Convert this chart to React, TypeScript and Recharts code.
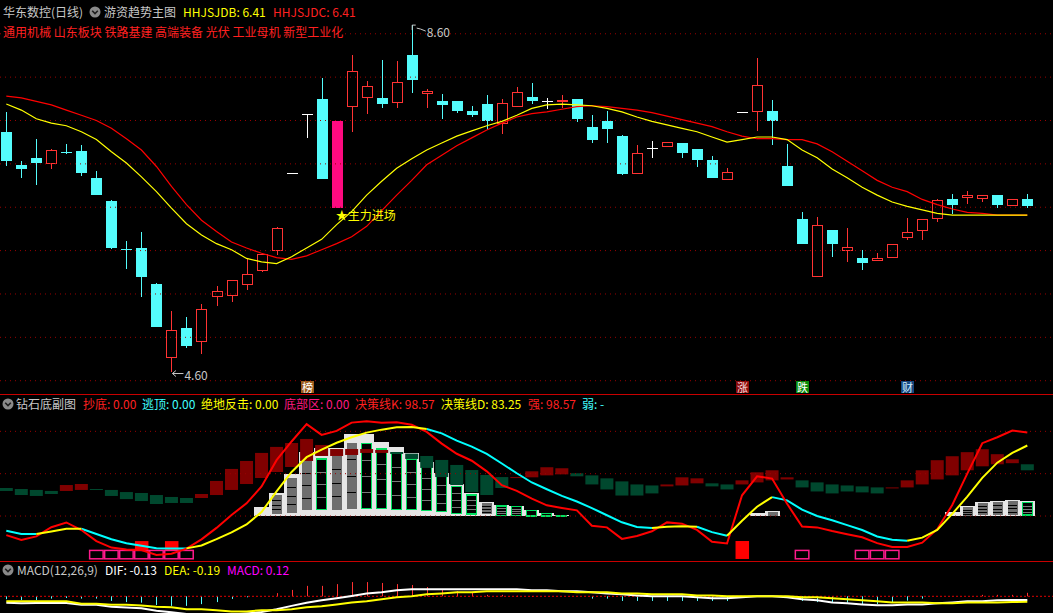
import React from "react";
import { ComposedChart, Bar, Line, XAxis, YAxis, ReferenceLine, ReferenceDot } from "recharts";

const FONT = '"Noto Sans CJK SC", "Noto Sans", sans-serif';
const W = 1053;
const X_DOMAIN: [number, number] = [-0.4196, 69.71];

// ================= 主图 (price) =================
const OPEN = [7.37, 6.99, 7.07, 7.0, 7.14, 7.15, 6.84, 6.57, 6.02, 6.03, 5.61, 4.76, 5.11, 4.95, 5.46, 5.48, 5.6, 5.76, 6.0, 6.89, 7.58, 7.75, 6.49, 7.66, 7.76, 7.76, 7.7, 8.26, 7.81, 7.73, 7.73, 7.61, 7.69, 7.46, 7.66, 7.77, 7.72, 7.72, 7.75, 7.42, 7.49, 7.32, 6.88, 7.18, 7.2, 7.24, 7.17, 7.04, 6.81, 7.6, 7.6, 7.61, 6.98, 6.36, 5.7, 6.24, 6.0, 5.91, 5.88, 5.91, 6.15, 6.23, 6.36, 6.6, 6.61, 6.59, 6.64, 6.52, 6.6];
const HIGH = [7.6, 7.03, 7.29, 7.17, 7.23, 7.22, 6.92, 6.58, 6.11, 6.21, 5.63, 5.3, 5.23, 5.38, 5.59, 5.66, 5.9, 5.96, 6.27, 6.89, 7.58, 7.99, 7.5, 8.26, 7.96, 8.2, 8.19, 8.6, 7.86, 7.81, 7.73, 7.67, 7.79, 7.75, 7.89, 7.93, 7.76, 7.79, 7.75, 7.56, 7.61, 7.33, 7.22, 7.26, 7.25, 7.24, 7.17, 7.09, 6.95, 7.6, 8.22, 7.74, 7.23, 6.45, 6.39, 6.24, 6.26, 6.01, 5.97, 6.08, 6.38, 6.36, 6.6, 6.65, 6.69, 6.64, 6.64, 6.6, 6.65];
const LOW = [6.98, 6.84, 6.76, 6.94, 7.11, 6.86, 6.64, 6.02, 5.79, 5.46, 5.12, 4.6, 4.88, 4.81, 5.36, 5.41, 5.55, 5.75, 5.95, 6.89, 7.3, 6.82, 6.49, 7.37, 7.57, 7.64, 7.64, 7.82, 7.64, 7.52, 7.59, 7.54, 7.39, 7.34, 7.66, 7.69, 7.63, 7.64, 7.48, 7.24, 7.24, 6.87, 6.88, 7.07, 7.19, 7.07, 6.96, 6.84, 6.81, 7.6, 7.38, 7.22, 6.75, 6.08, 5.7, 5.93, 5.87, 5.78, 5.88, 5.91, 6.12, 6.12, 6.33, 6.42, 6.54, 6.56, 6.49, 6.52, 6.49];
const CLOSE = [7.03, 6.94, 7.01, 7.16, 7.13, 6.9, 6.64, 6.03, 6.01, 5.7, 5.12, 5.08, 4.9, 5.33, 5.53, 5.66, 5.73, 5.96, 6.26, 6.89, 7.58, 6.82, 7.5, 8.07, 7.9, 7.69, 7.94, 7.97, 7.84, 7.68, 7.61, 7.56, 7.49, 7.7, 7.83, 7.73, 7.72, 7.74, 7.52, 7.28, 7.4, 6.88, 7.12, 7.18, 7.25, 7.13, 7.04, 6.84, 6.91, 7.6, 7.91, 7.5, 6.75, 6.08, 6.3, 6.08, 6.04, 5.86, 5.91, 6.08, 6.22, 6.36, 6.58, 6.53, 6.64, 6.64, 6.53, 6.6, 6.51];
const HHJSJDB = [7.69, 7.62, 7.52, 7.47, 7.44, 7.37, 7.28, 7.14, 7.01, 6.85, 6.68, 6.49, 6.31, 6.18, 6.08, 6.01, 5.91, 5.87, 5.85, 5.93, 6.03, 6.13, 6.3, 6.45, 6.64, 6.8, 6.95, 7.06, 7.16, 7.24, 7.32, 7.38, 7.44, 7.49, 7.56, 7.64, 7.68, 7.69, 7.68, 7.67, 7.64, 7.6, 7.54, 7.49, 7.45, 7.41, 7.37, 7.31, 7.25, 7.28, 7.31, 7.31, 7.28, 7.16, 7.07, 6.94, 6.84, 6.73, 6.64, 6.56, 6.51, 6.47, 6.43, 6.41, 6.41, 6.41, 6.41, 6.41, 6.41];
const HHJSJDC = [7.78, 7.76, 7.72, 7.68, 7.62, 7.56, 7.5, 7.41, 7.29, 7.16, 6.97, 6.74, 6.53, 6.35, 6.22, 6.1, 6.03, 5.97, 5.92, 5.9, 5.94, 6.01, 6.08, 6.16, 6.28, 6.46, 6.64, 6.81, 6.99, 7.1, 7.21, 7.3, 7.39, 7.47, 7.54, 7.58, 7.6, 7.63, 7.66, 7.67, 7.66, 7.64, 7.62, 7.59, 7.55, 7.51, 7.47, 7.43, 7.37, 7.32, 7.29, 7.29, 7.28, 7.28, 7.23, 7.14, 7.03, 6.92, 6.81, 6.73, 6.68, 6.59, 6.53, 6.48, 6.44, 6.43, 6.41, 6.41, 6.41];
const PRICE_GRID = [4.5, 5.0, 5.5, 6.0, 6.5, 7.0, 7.5, 8.0, 8.5];
const SIGNAL_INDEX = 22;
const HIGH_MARK = { i: 27, v: 8.6 };
const LOW_MARK = { i: 11, v: 4.6 };
const TAG_LEVEL = 4.431;
const TAG_INDEX = [20, 49, 53, 60];
const TAG_TEXT = ["榜", "涨", "跌", "财"];
const SECTORS = "通用机械 山东板块 铁路基建 高端装备 光伏 工业母机 新型工业化";

// ================= 钻石底副图 =================
const K_LINE = [-22.5, -28.3, -24, -13.2, -7.6, -16.5, -29.6, -37.3, -39.4, -40.2, -46, -44.5, -38.5, -27.5, -14, 1.2, 15, 35, 66, 88, 108.5, 95.8, 100.5, 110.3, 112, 110, 110.6, 107.8, 99.4, 85.5, 73.5, 65.3, 52.8, 36.5, 29.7, 20.5, 12.6, 9.6, 6.7, -11.5, -13.4, -27, -23.5, -18, -7.5, -9, -16.4, -30.5, -32.4, 24.5, 46.9, 44.2, 14.5, -12.5, -13.4, -17.7, -21.5, -25, -32, -36.5, -36.6, -31.5, -15.5, 13, 50, 86, 93, 101, 98.57];
const D_LINE = [-17.4, -21.3, -21.3, -18.3, -15, -15, -21.3, -27.5, -32.2, -35, -38.1, -38.2, -38.2, -34.7, -27.3, -19.4, -10, 4.7, 29.2, 52, 69.5, 78.5, 86.5, 93, 98.5, 102, 104.8, 105, 102.7, 97.6, 89, 82, 73.4, 62, 50.5, 39.6, 31.6, 23.8, 17.2, 9.4, 0.9, -7.4, -13, -14, -12.7, -12.2, -12.6, -19, -23.3, -5.5, 11, 22.3, 18.5, 7.5, 0, -5, -10.7, -16.5, -24.1, -27.9, -29.2, -25.5, -16.5, 2.5, 23, 45, 63, 74.5, 83.25];
// colour of the D segment ending at each bar: y = yellow (rising), c = cyan (falling)
const D_TREND = ["ccc", "yyy", "ccccccc", "yyyyyyyyyyyyyyyy", "ccccccccccccccc", "yyy", "cc", "yyy", "ccccccccc", "yyyyyyyy"].join("");
const DK_OPEN = [33.1, 31.9, 30.8, 29.6, 29.6, 30.8, 31.9, 30.8, 28.3, 27.2, 24.8, 22.5, 21.3, 21.3, 24.8, 30.8, 37.8, 44.9, 52.0, 57.9, 65.0, 70.9, 70.9, 72.1, 74.5, 74.5, 75.6, 73.7, 70.9, 66.2, 60.3, 54.3, 48.5, 46.0, 44.9, 45.7, 48.0, 49.2, 50.5, 48.0, 44.5, 40.9, 37.3, 36.1, 35.0, 36.1, 38.6, 38.6, 37.3, 37.3, 39.7, 42.1, 43.2, 42.1, 39.7, 37.3, 36.1, 35.0, 33.8, 32.6, 33.8, 37.3, 43.2, 48.0, 54.0, 58.7, 61.1, 62.4, 61.1];
const DK_CLOSE = [29.6, 24.8, 23.7, 26.0, 36.6, 37.8, 30.8, 23.7, 20.0, 17.7, 14.2, 15.4, 15.4, 26.0, 41.4, 55.6, 65.0, 74.5, 81.6, 86.2, 91.0, 83.9, 79.1, 79.1, 79.1, 78.0, 73.3, 67.4, 56.8, 46.0, 36.6, 28.3, 24.8, 33.1, 46.0, 52.8, 57.6, 56.4, 46.9, 37.3, 31.4, 24.2, 24.2, 26.7, 37.3, 45.7, 44.5, 35.0, 31.4, 42.1, 51.6, 54.0, 45.7, 33.8, 29.0, 26.7, 29.0, 27.9, 26.7, 33.8, 42.1, 54.0, 65.9, 70.6, 75.4, 78.9, 73.0, 67.0, 54.0];
const BLOCK_INDEX = [17, 18, 19, 20, 21, 22, 23, 24, 25, 26, 27, 28, 29, 30, 31, 32, 33, 34, 35, 36, 37, 50, 51, 63, 64, 65, 66, 67, 68];
const BLOCK_TOP = [10.6, 26.8, 49.6, 75.6, 80, 80, 96.5, 96.5, 87.0, 81.5, 74.0, 64.1, 50.4, 37.8, 27.5, 16.5, 13.0, 11.8, 7.1, 3.9, 0.8, 3.2, 5.9, 4.4, 11.4, 16.2, 17.7, 18.9, 17.7];
const INNER_TOP = [null, 24.8, 45.2, 65.3, 67.3, 71.2, 86.5, 85.8, 79.1, 74.0, 67.3, 58.2, 46.4, 34.6, 24.8, 15.0, 11.8, 11.0, 6.3, 3.2, 0.8, null, 4.7, null, 10.2, 15.0, 16.5, 17.7, 15.7];
const INNER_BASE = [null, 2.4, 3.2, 7.1, 7.9, 7.1, 8.3, 8.7, 8.7, 7.9, 7.9, 6.3, 5.2, 3.2, 2.4, 2.0, 0.4, 0.4, 0, 0, 0, null, 0.4, null, 0, 1.2, 1.2, 1.2, 1.2];
const INNER_KIND = ["", "g", "g", "g", "o", "g", "g", "o", "o", "o", "o", "o", "o", "o", "o", "g", "o", "o", "o", "o", "o", "", "g", "", "g", "g", "g", "g", "o"];
const ZONE_INDEX = [6, 7, 8, 9, 10, 11, 12, 53, 57, 58, 59];
const ZONE_RANGE = [-50.5, -40.6];
const HIT_INDEX = [9, 11, 49];
const HIT_LOW = [-40.2, -40.2, -50.7];
const HIT_HIGH = [-29.6, -29.6, -29.5];
const SUB_GRID = [0, 50, 100];

// ================= MACD =================
const DIF = [-0.22, -0.24, -0.23, -0.23, -0.23, -0.29, -0.29, -0.36, -0.39, -0.41, -0.5, -0.55, -0.61, -0.64, -0.64, -0.63, -0.59, -0.54, -0.45, -0.33, -0.22, -0.14, -0.07, 0.01, 0.1, 0.14, 0.21, 0.24, 0.24, 0.24, 0.24, 0.24, 0.24, 0.24, 0.24, 0.21, 0.21, 0.17, 0.17, 0.14, 0.1, 0.07, 0.03, 0, 0, 0, -0.03, -0.07, -0.07, -0.03, 0, 0, -0.03, -0.1, -0.14, -0.21, -0.24, -0.28, -0.31, -0.31, -0.28, -0.28, -0.24, -0.21, -0.17, -0.17, -0.14, -0.13, -0.13];
const DEA = [-0.17, -0.17, -0.17, -0.17, -0.17, -0.26, -0.26, -0.29, -0.29, -0.32, -0.36, -0.38, -0.45, -0.45, -0.48, -0.52, -0.52, -0.48, -0.48, -0.45, -0.38, -0.34, -0.28, -0.21, -0.17, -0.1, -0.03, 0, 0.07, 0.1, 0.14, 0.14, 0.17, 0.17, 0.17, 0.17, 0.17, 0.17, 0.14, 0.14, 0.14, 0.1, 0.1, 0.07, 0.07, 0.07, 0.03, 0.03, 0, 0, 0, 0, 0, -0.03, -0.03, -0.07, -0.1, -0.14, -0.17, -0.21, -0.21, -0.21, -0.24, -0.24, -0.21, -0.21, -0.21, -0.2, -0.19];
const MACD = [-0.1, -0.13, -0.13, -0.08, -0.06, -0.08, -0.08, -0.16, -0.2, -0.22, -0.3, -0.33, -0.33, -0.27, -0.2, -0.09, -0.02, 0, 0.11, 0.22, 0.36, 0.36, 0.42, 0.49, 0.49, 0.46, 0.42, 0.39, 0.32, 0.25, 0.18, 0.15, 0.05, 0.05, 0.02, 0.01, 0, 0, 0, -0.08, -0.08, -0.16, -0.16, -0.16, -0.16, -0.16, -0.16, -0.16, -0.16, -0.02, 0, 0, 0, -0.16, -0.2, -0.22, -0.22, -0.27, -0.27, -0.2, -0.15, -0.08, 0, 0, 0, 0.05, 0.05, 0.05, 0.12];

// ================= styles =================
const UP = "#FF3333";
const DOWN = "#54FCFC";
const FLAT = "#FFFFFF";
const SIGNAL_COLOR = "#FF0A80";
const GRID = "#9A0000";
const SEP = "#C80000";
const GRAYTXT = "#C8C8C8";
const TAG_STYLE: Record<string, { bg: string; fg: string }> = {
  榜: { bg: "#9C5A1C", fg: "#FFFFFF" },
  涨: { bg: "#8C0A0A", fg: "#FFE0E0" },
  跌: { bg: "#0A8A0A", fg: "#FFFFFF" },
  财: { bg: "#18477F", fg: "#D0F0FF" },
};

const mainData = OPEN.map((o, i) => ({
  i, o, h: HIGH[i], l: LOW[i], c: CLOSE[i], fast: HHJSJDB[i], slow: HHJSJDC[i],
}));

const isY = (j: number) => D_TREND[j] === "y";
const subData = K_LINE.map((k, i) => {
  const b = BLOCK_INDEX.indexOf(i);
  const h = HIT_INDEX.indexOf(i);
  const last = K_LINE.length - 1;
  const yellow = (i > 0 && isY(i)) || (i < last && isY(i + 1));
  const cyan = (i > 0 && !isY(i)) || (i < last && !isY(i + 1));
  return {
    i, k,
    dY: yellow ? D_LINE[i] : null,
    dC: cyan ? D_LINE[i] : null,
    dko: DK_OPEN[i], dkc: DK_CLOSE[i],
    wt: b >= 0 ? BLOCK_TOP[b] : null,
    it: b >= 0 ? INNER_TOP[b] : null,
    ib: b >= 0 ? INNER_BASE[b] : null,
    kind: b >= 0 ? INNER_KIND[b] : "",
    zone: ZONE_INDEX.includes(i) ? ZONE_RANGE : null,
    hit: h >= 0 ? [HIT_LOW[h], HIT_HIGH[h]] : null,
  };
});

const macdData = DIF.map((d, i) => ({ i, dif: d, dea: DEA[i], m: MACD[i] }));

const box = (y: number, height: number) => ({ top: Math.min(y, y + (height || 0)), h: Math.abs(height || 0) });

function CandleShape(props: any) {
  const { x, y, width, height, payload } = props;
  if (!payload || x == null || y == null || !isFinite(y)) return <g />;
  const { i, o, h: hi, l: lo, c } = payload;
  const { top, h } = box(y, height);
  const py = (v: number) => (hi === lo ? top : top + ((hi - v) / (hi - lo)) * h);
  const cx = Math.round(x + width / 2) + 0.5;
  const left = cx - 5.5;
  const bt = Math.round(py(Math.max(o, c)));
  const bb = Math.round(py(Math.min(o, c)));
  const yh = Math.round(py(hi));
  const yl = Math.round(py(lo));
  if (i === SIGNAL_INDEX) {
    return <rect x={left} y={bt} width={11} height={Math.max(1, bb - bt)} fill={SIGNAL_COLOR} />;
  }
  if (c > o) {
    return (
      <g shapeRendering="crispEdges">
        {bt > yh && <line x1={cx} x2={cx} y1={yh} y2={bt} stroke={UP} />}
        {yl > bb && <line x1={cx} x2={cx} y1={bb} y2={yl} stroke={UP} />}
        <rect x={left + 0.5} y={bt + 0.5} width={10} height={Math.max(1, bb - bt - 1)} fill="none" stroke={UP} />
      </g>
    );
  }
  if (c < o) {
    return (
      <g shapeRendering="crispEdges">
        {yl > yh && <line x1={cx} x2={cx} y1={yh} y2={yl} stroke={DOWN} />}
        <rect x={left} y={bt} width={11} height={Math.max(1, bb - bt)} fill={DOWN} />
      </g>
    );
  }
  return (
    <g shapeRendering="crispEdges">
      {yl > yh && <line x1={cx} x2={cx} y1={yh} y2={yl} stroke={FLAT} />}
      <line x1={left} x2={left + 11} y1={bt + 0.5} y2={bt + 0.5} stroke={FLAT} />
    </g>
  );
}

function BlockShape(props: any) {
  const { x, y, width, height, payload } = props;
  if (!payload || payload.wt == null || !isFinite(y)) return <g />;
  const { top, h } = box(y, height);
  const wt = payload.wt;
  const py = (v: number) => top + ((wt - v) / wt) * h;
  const left = Math.round(x);
  const wd = Math.round(width);
  const parts: any[] = [<rect key="w" x={left} y={top} width={wd} height={Math.max(1, h)} fill="#E6E6E6" />];
  if (payload.it != null && payload.kind) {
    const t = py(payload.it);
    const b = py(payload.ib);
    const ih = Math.max(0.8, b - t);
    const gray = payload.kind === "g";
    parts.push(
      <rect key="in" x={left + 2.5} y={t} width={wd - 5} height={ih}
        fill={gray ? "#6E6E6E" : "#000000"} stroke={gray ? "none" : "#00E060"} strokeWidth={gray ? 0 : 1.5} />
    );
    if (ih > 7) {
      [0.25, 0.5, 0.75].forEach((f, n) =>
        parts.push(<line key={"l" + n} x1={left + 3} x2={left + wd - 3} y1={Math.round(t + ih * f) + 0.5} y2={Math.round(t + ih * f) + 0.5}
          stroke={gray ? "#000000" : "#7A7A7A"} strokeWidth={1.2} />)
      );
    }
  }
  return <g shapeRendering="crispEdges">{parts}</g>;
}

function DarkShape(props: any) {
  const { x, y, width, height, payload } = props;
  if (!payload || !isFinite(y)) return <g />;
  const { top, h } = box(y, height);
  const rising = payload.dkc > payload.dko;
  return <rect x={x} y={top} width={width} height={Math.max(1, h)} fill={rising ? "#800000" : "#00482E"} />;
}

function ZoneShape(props: any) {
  const { x, y, width, height, payload } = props;
  if (!payload || !payload.zone || !isFinite(y)) return <g />;
  const { top, h } = box(y, height);
  return <rect x={x + 0.75} y={top} width={width - 1.5} height={h} fill="none" stroke="#FF1A8C" strokeWidth={1.5} />;
}

function HitShape(props: any) {
  const { x, y, width, height, payload } = props;
  if (!payload || !payload.hit || !isFinite(y)) return <g />;
  const { top, h } = box(y, height);
  return <rect x={x} y={top} width={width} height={h} fill="#FF0000" />;
}

function MacdShape(props: any) {
  const { x, y, width, height, payload } = props;
  if (!payload || !payload.m || !isFinite(y)) return <g />;
  const { top, h } = box(y, height);
  const cx = Math.round(x + width / 2) + 0.5;
  return <line x1={cx} x2={cx} y1={top} y2={top + Math.max(1, h)} stroke={payload.m > 0 ? "#FF3232" : "#54FCFC"} strokeWidth={1} />;
}

const HighFlag = (p: any) => {
  const { cx, cy } = p;
  return (
    <g>
      <polyline points={`${cx + 0.5},${cy + 5} ${cx + 0.5},${cy} ${cx + 4},${cy}`} fill="none" stroke={GRAYTXT} />
      <polyline points={`${cx + 5},${cy + 3} ${cx + 9},${cy + 4} ${cx + 14},${cy + 6}`} fill="none" stroke={GRAYTXT} />
      <text x={cx + 15} y={cy + 6} fontSize={12} fill={GRAYTXT} fontFamily={FONT} dominantBaseline="central">
        {HIGH_MARK.v.toFixed(2)}
      </text>
    </g>
  );
};

const LowFlag = (p: any) => {
  const { cx, cy } = p;
  const ay = cy + 1.5;
  return (
    <g>
      <line x1={cx + 1} y1={ay} x2={cx + 12} y2={ay} stroke={GRAYTXT} />
      <polyline points={`${cx + 4.5},${ay - 3} ${cx + 1},${ay} ${cx + 4.5},${ay + 3}`} fill="none" stroke={GRAYTXT} />
      <text x={cx + 13} y={cy + 2} fontSize={12} fill={GRAYTXT} fontFamily={FONT} dominantBaseline="central">
        {LOW_MARK.v.toFixed(2)}
      </text>
    </g>
  );
};

const SignalText = (p: any) => {
  const { cx, cy } = p;
  return (
    <text x={cx - 1} y={cy + 6.5} fontSize={12} fill="#FFFF00" fontFamily={FONT} dominantBaseline="central">
      ★主力进场
    </text>
  );
};

const makeTag = (t: string) => (p: any) => {
  const { cx, cy } = p;
  const s = TAG_STYLE[t];
  return (
    <g>
      <rect x={Math.round(cx) - 6} y={Math.round(cy) - 6} width={13} height={12} fill={s.bg} />
      <text x={Math.round(cx) + 0.5} y={Math.round(cy)} textAnchor="middle" dominantBaseline="central" fontSize={11} fill={s.fg} fontFamily={FONT}>
        {t}
      </text>
    </g>
  );
};

const Knob = ({ x, y }: { x: number; y: number }) => (
  <svg style={{ position: "absolute", left: x - 6, top: y - 6 }} width={12} height={12}>
    <circle cx={6} cy={6} r={5.5} fill="#8A8A8A" />
    <polyline points="3.2,4.8 6,7.6 8.8,4.8" fill="none" stroke="#1E1E1E" strokeWidth={1.6} />
  </svg>
);

const T = ({ x, y, c, children, bg }: any) => (
  <span style={{ position: "absolute", left: x, top: y - 8, fontSize: 12, lineHeight: "16px", color: c, whiteSpace: "nowrap", background: bg, fontFamily: FONT }}>
    {children}
  </span>
);

const noMargin = { top: 0, right: 0, bottom: 0, left: 0 };

export default function App() {
  return (
    <div style={{ position: "absolute", left: 0, top: 0, width: W, height: 613, background: "#000", overflow: "hidden", fontFamily: FONT }}>
      {/* main panel */}
      <div style={{ position: "absolute", left: 0, top: 0 }}>
        <ComposedChart width={W} height={394} data={mainData} margin={noMargin}>
          <XAxis xAxisId={0} dataKey="i" type="number" domain={X_DOMAIN} allowDataOverflow hide />
          <YAxis yAxisId={0} type="number" domain={[4.3467, 8.8894]} allowDataOverflow hide />
          {PRICE_GRID.map((v) => (
            <ReferenceLine key={v} y={v} stroke={GRID} strokeDasharray="1 4" />
          ))}
          <Bar dataKey={(d: any) => [d.l, d.h]} barSize={11} shape={CandleShape} isAnimationActive={false} />
          <Line dataKey="slow" stroke="#FF0000" strokeWidth={1.2} dot={false} activeDot={false} isAnimationActive={false} />
          <Line dataKey="fast" stroke="#FFFF00" strokeWidth={1.2} dot={false} activeDot={false} isAnimationActive={false} />
          <ReferenceDot x={HIGH_MARK.i} y={HIGH_MARK.v} r={0} shape={HighFlag} />
          <ReferenceDot x={LOW_MARK.i} y={LOW_MARK.v} r={0} shape={LowFlag} />
          <ReferenceDot x={SIGNAL_INDEX} y={OPEN[SIGNAL_INDEX]} r={0} shape={SignalText} />
          {TAG_INDEX.map((ix, n) => (
            <ReferenceDot key={ix} x={ix} y={TAG_LEVEL} r={0} shape={makeTag(TAG_TEXT[n])} />
          ))}
        </ComposedChart>
      </div>
      <div style={{ position: "absolute", left: 0, top: 394, width: W, height: 1, background: SEP }} />

      {/* sub panel */}
      <div style={{ position: "absolute", left: 0, top: 395 }}>
        <ComposedChart width={W} height={166} data={subData} margin={noMargin}>
          <XAxis xAxisId={0} dataKey="i" type="number" domain={X_DOMAIN} allowDataOverflow hide />
          <XAxis xAxisId="w" dataKey="i" type="number" domain={X_DOMAIN} allowDataOverflow hide />
          <XAxis xAxisId="k" dataKey="i" type="number" domain={X_DOMAIN} allowDataOverflow hide />
          <XAxis xAxisId="z" dataKey="i" type="number" domain={X_DOMAIN} allowDataOverflow hide />
          <XAxis xAxisId="h" dataKey="i" type="number" domain={X_DOMAIN} allowDataOverflow hide />
          <YAxis yAxisId={0} type="number" domain={[-53.1, 142.9]} allowDataOverflow hide />
          {SUB_GRID.map((v) => (
            <ReferenceLine key={v} y={v} stroke={GRID} strokeDasharray="1 4" />
          ))}
          <Bar xAxisId="w" dataKey={(d: any) => (d.wt == null ? null : [0, d.wt])} barSize={15} shape={BlockShape} isAnimationActive={false} />
          <Bar xAxisId="k" dataKey={(d: any) => [Math.min(d.dko, d.dkc), Math.max(d.dko, d.dkc)]} barSize={13} shape={DarkShape} isAnimationActive={false} />
          <Bar xAxisId="z" dataKey={(d: any) => d.zone} barSize={15} shape={ZoneShape} isAnimationActive={false} />
          <Bar xAxisId="h" dataKey={(d: any) => d.hit} barSize={17} shape={HitShape} isAnimationActive={false} />
          <Line dataKey="dC" stroke="#00FFFF" strokeWidth={2} dot={false} activeDot={false} connectNulls={false} isAnimationActive={false} />
          <Line dataKey="k" stroke="#FF0000" strokeWidth={2} dot={false} activeDot={false} isAnimationActive={false} />
          <Line dataKey="dY" stroke="#FFFF00" strokeWidth={2} dot={false} activeDot={false} connectNulls={false} isAnimationActive={false} />
        </ComposedChart>
      </div>
      <div style={{ position: "absolute", left: 0, top: 561, width: W, height: 1, background: SEP }} />

      {/* MACD panel */}
      <div style={{ position: "absolute", left: 0, top: 562 }}>
        <ComposedChart width={W} height={51} data={macdData} margin={noMargin}>
          <XAxis xAxisId={0} dataKey="i" type="number" domain={X_DOMAIN} allowDataOverflow hide />
          <YAxis yAxisId={0} type="number" domain={[-0.5759, 1.1828]} allowDataOverflow hide />
          <ReferenceLine y={0} stroke="#E00000" strokeDasharray="2 2" />
          <Bar dataKey={(d: any) => [Math.min(0, d.m), Math.max(0, d.m)]} barSize={3} shape={MacdShape} isAnimationActive={false} />
          <Line dataKey="dif" stroke="#FFFFFF" strokeWidth={2} dot={false} activeDot={false} isAnimationActive={false} />
          <Line dataKey="dea" stroke="#FFFF00" strokeWidth={2} dot={false} activeDot={false} isAnimationActive={false} />
        </ComposedChart>
      </div>

      {/* headers */}
      <T x={3} y={12} c={GRAYTXT}>华东数控(日线)</T>
      <Knob x={95} y={12} />
      <T x={104} y={12} c={GRAYTXT}>游资趋势主图</T>
      <T x={183} y={12} c="#FFFF00">HHJSJDB: {HHJSJDB[HHJSJDB.length - 1].toFixed(2)}</T>
      <T x={273} y={12} c="#FF2020">HHJSJDC: {HHJSJDC[HHJSJDC.length - 1].toFixed(2)}</T>
      <T x={3} y={32} c="#FF2020" bg="#000">{SECTORS}</T>

      <Knob x={8} y={404} />
      <T x={16} y={404} c={GRAYTXT}>钻石底副图</T>
      <T x={83} y={404} c="#FF2020">抄底: 0.00</T>
      <T x={142} y={404} c="#40FFFF">逃顶: 0.00</T>
      <T x={201} y={404} c="#FFFF00">绝地反击: 0.00</T>
      <T x={284} y={404} c="#FF1A80">底部区: 0.00</T>
      <T x={355} y={404} c="#FF2020">决策线K: {K_LINE[K_LINE.length - 1].toFixed(2)}</T>
      <T x={441} y={404} c="#FFFF00">决策线D: {D_LINE[D_LINE.length - 1].toFixed(2)}</T>
      <T x={528} y={404} c="#FF2020">强: {K_LINE[K_LINE.length - 1].toFixed(2)}</T>
      <T x={582} y={404} c="#40FFFF">弱: -</T>

      <Knob x={8} y={570} />
      <T x={17} y={570} c={GRAYTXT}>MACD(12,26,9)</T>
      <T x={105} y={570} c="#FFFFFF">DIF: {DIF[DIF.length - 1].toFixed(2)}</T>
      <T x={164} y={570} c="#FFFF00">DEA: {DEA[DEA.length - 1].toFixed(2)}</T>
      <T x={227} y={570} c="#FF00FF">MACD: {MACD[MACD.length - 1].toFixed(2)}</T>
    </div>
  );
}
